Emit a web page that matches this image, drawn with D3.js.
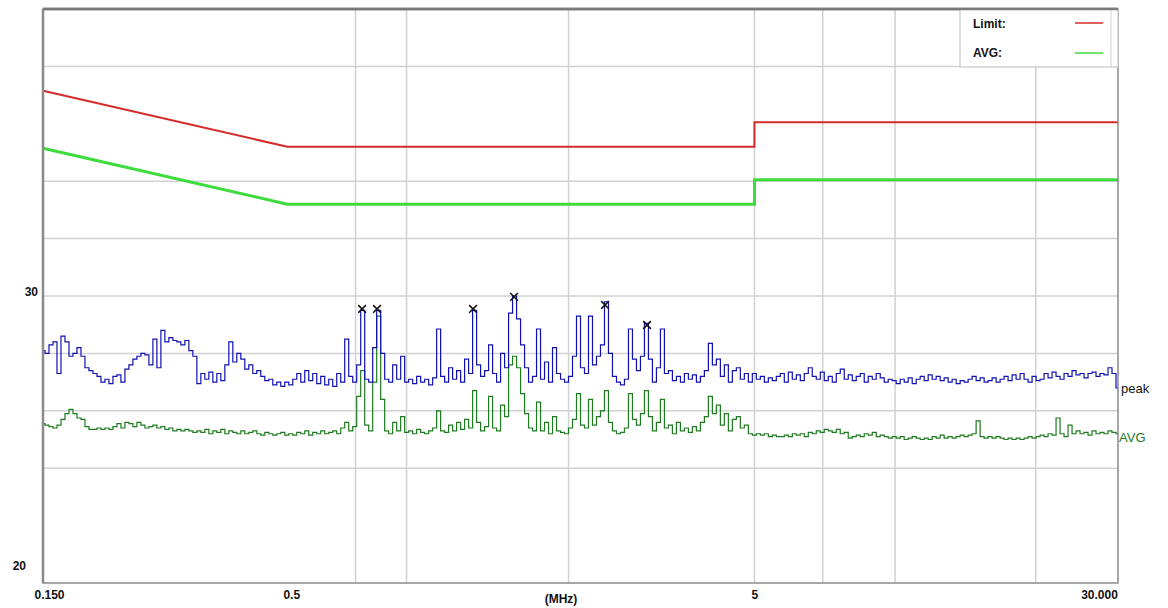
<!DOCTYPE html>
<html><head><meta charset="utf-8">
<script src="https://cdn.jsdelivr.net/npm/d3@7"></script>
<style>
html,body{margin:0;padding:0;background:#fff;}
svg{display:block;}
</style></head>
<body>
<svg id="chart" width="1168" height="608"></svg>
<script>
// ---------- data ----------
const fStart = 0.15, fStop = 30, sweepCount = 270;
const peakValues = [
28.1,28.0,28.3,28.4,27.3,28.6,28.4,27.9,28.0,28.2,
27.9,27.5,27.4,27.3,27.2,27.0,27.1,26.95,27.2,27.25,
27.0,27.45,27.6,27.8,27.9,28.0,27.95,27.6,28.5,27.5,
28.8,28.4,28.55,28.45,28.4,28.3,28.45,28.1,27.9,26.95,
27.3,27.1,27.35,27.0,27.3,27.05,27.6,28.4,27.7,28.0,
27.8,27.45,27.6,27.3,27.4,27.2,27.05,27.1,26.9,27.0,
26.85,27.0,26.9,27.1,27.3,27.0,27.4,27.05,27.3,26.95,
27.2,26.9,27.1,26.85,27.3,27.0,28.5,27.2,27.0,27.6,
29.5,27.1,27.0,28.2,29.5,28.0,27.1,27.0,27.6,27.1,
27.9,27.0,27.1,26.95,27.2,27.0,27.1,26.9,27.15,28.85,
27.2,27.0,27.5,27.1,27.4,27.0,27.8,27.3,29.5,27.6,
27.2,27.4,28.3,27.3,27.0,28.0,27.5,29.4,30.0,29.2,
28.3,27.5,27.0,27.2,28.85,27.1,27.7,27.0,28.2,27.3,
27.1,27.0,27.2,27.9,29.3,27.5,27.3,29.3,27.6,27.9,
28.3,29.8,28.0,27.2,27.0,26.9,27.1,28.85,27.8,27.4,
27.9,29.05,27.8,27.0,27.5,28.85,27.3,27.4,27.05,27.2,
27.0,27.3,27.1,27.25,27.0,27.2,27.4,28.35,27.6,27.8,
27.2,27.6,27.0,27.4,27.5,27.1,27.3,27.0,27.3,27.1,
27.2,27.0,27.15,27.05,27.2,27.3,27.0,27.35,27.1,27.25,
27.05,27.3,27.5,27.2,27.1,27.35,27.05,27.2,27.0,27.3,
27.45,27.1,27.25,27.05,27.2,27.3,27.0,27.2,27.1,27.3,
27.15,27.0,27.1,27.05,26.95,27.1,27.0,27.15,26.95,27.1,
27.2,27.05,27.25,27.1,27.2,27.05,27.15,27.0,27.1,26.95,
27.05,27.0,27.1,27.2,27.05,27.15,27.0,27.05,27.15,27.0,
27.1,27.2,27.05,27.25,27.1,27.3,27.1,27.0,27.2,27.05,
27.1,27.3,27.15,27.35,27.2,27.1,27.3,27.2,27.4,27.25,
27.3,27.15,27.3,27.35,27.2,27.3,27.25,27.5,27.3,26.8
];
const avgValues = [
25.55,25.5,25.45,25.4,25.5,25.7,25.9,26.05,25.9,25.75,
25.7,25.45,25.35,25.35,25.4,25.35,25.4,25.35,25.45,25.55,
25.4,25.6,25.55,25.45,25.6,25.5,25.4,25.45,25.5,25.4,
25.45,25.35,25.4,25.3,25.35,25.3,25.35,25.3,25.25,25.3,
25.25,25.35,25.2,25.3,25.25,25.35,25.2,25.3,25.25,25.2,
25.3,25.2,25.25,25.3,25.2,25.15,25.25,25.2,25.15,25.2,
25.25,25.15,25.2,25.15,25.25,25.2,25.3,25.15,25.25,25.2,
25.3,25.2,25.25,25.3,25.2,25.4,25.6,25.3,25.45,26.5,
27.4,25.5,25.3,27.0,29.3,26.4,25.3,25.2,25.6,25.3,
25.8,25.25,25.3,25.2,25.35,25.25,25.2,25.3,25.4,26.0,
25.3,25.25,25.5,25.3,25.6,25.35,25.7,25.4,26.7,25.6,
25.3,25.45,26.5,25.4,25.3,26.2,25.8,27.6,27.9,27.5,
26.6,25.9,25.4,25.3,26.3,25.3,25.6,25.2,25.8,25.3,
25.25,25.2,25.4,25.7,26.6,25.5,25.4,26.4,25.5,25.8,
26.0,26.7,25.6,25.3,25.2,25.25,25.4,26.6,25.7,25.5,
25.9,26.7,25.8,25.3,25.6,26.4,25.4,25.5,25.2,25.6,
25.3,25.4,25.25,25.45,25.3,25.6,25.8,26.5,25.9,26.2,
25.5,25.9,25.3,25.7,25.8,25.4,25.5,25.2,25.15,25.2,
25.15,25.2,25.1,25.15,25.1,25.1,25.15,25.1,25.2,25.15,
25.2,25.1,25.25,25.2,25.3,25.25,25.35,25.3,25.25,25.35,
25.2,25.25,25.05,25.1,25.15,25.1,25.2,25.15,25.25,25.1,
25.15,25.1,25.05,25.1,25.05,25.1,25.0,25.05,25.1,25.05,
25.0,25.05,25.0,25.1,25.05,25.15,25.05,25.1,25.05,25.1,
25.15,25.1,25.15,25.2,25.65,25.1,25.05,25.1,25.05,25.1,
25.05,25.0,25.05,25.0,25.05,25.0,25.05,25.1,25.05,25.1,
25.15,25.1,25.2,25.15,25.75,25.2,25.1,25.5,25.2,25.3,
25.2,25.25,25.15,25.3,25.2,25.25,25.2,25.3,25.25,25.2
];
const limitFreqs  = [0.15, 0.5, 5, 5, 30];
const limitQP     = [37.15, 35.2, 35.2, 36.05, 36.05];
const limitAVG    = [35.15, 33.2, 33.2, 34.05, 34.05];
const markerFreqs  = [0.723, 0.778, 1.249, 1.529, 2.394, 2.945];
const markerValues = [29.55, 29.55, 29.55, 29.97, 29.69, 28.99];
const xTickValues = [0.15, 0.5, 5, 30];
const xTickLabels = ["0.150", "0.5", "5", "30.000"];
const xGridValues = [0.7, 0.9, 2, 5, 7, 10, 20];
const yTickValues = [30, 20];
const yTickLabels = ["30", "20"];
const yGridValues = [24, 26, 28, 30, 32, 34, 38];
const legendLabels = ["Limit:", "AVG:"];
const traceLabels = ["peak", "AVG"];
const unitLabel = "(MHz)";

// ---------- layout ----------
const L = 43, R = 1118, T = 9, B = 583;
const svg = d3.select("#chart");
const x = d3.scaleLog().domain([fStart, fStop]).range([L, R]);
const y = d3.scaleLinear().domain([20, 40]).range([B, T]);

const sweep = d3.range(sweepCount).map(i => fStart * Math.pow(fStop / fStart, i / (sweepCount - 1)));

// gridlines
svg.append("g").selectAll("line").data(yGridValues).join("line")
  .attr("x1", L).attr("x2", R).attr("y1", d => y(d)).attr("y2", d => y(d))
  .attr("stroke", "#d2d2d2").attr("stroke-width", 1.5);
svg.append("g").selectAll("line").data(xGridValues).join("line")
  .attr("x1", d => x(d)).attr("x2", d => x(d)).attr("y1", T).attr("y2", B)
  .attr("stroke", "#d2d2d2").attr("stroke-width", 1.5);

// limit lines
const lim = d3.line().x(d => x(d[0])).y(d => y(d[1]));
svg.append("path").datum(limitFreqs.map((f, i) => [f, limitAVG[i]]))
  .attr("d", lim).attr("fill", "none").attr("stroke", "#3cdc3c").attr("stroke-width", 3);
svg.append("path").datum(limitFreqs.map((f, i) => [f, limitQP[i]]))
  .attr("d", lim).attr("fill", "none").attr("stroke", "#d42a2a").attr("stroke-width", 2);

// traces
const trace = d3.line().x(d => x(d[0])).y(d => y(d[1])).curve(d3.curveStep);
svg.append("path").datum(sweep.map((f, i) => [f, avgValues[i]]))
  .attr("d", trace).attr("fill", "none").attr("stroke", "#1e7a1e").attr("stroke-width", 1.2);
svg.append("path").datum(sweep.map((f, i) => [f, peakValues[i]]))
  .attr("d", trace).attr("fill", "none").attr("stroke", "#1010b0").attr("stroke-width", 1.2);

// markers
svg.append("g").selectAll("path").data(markerFreqs).join("path")
  .attr("transform", (d, i) => `translate(${x(d)},${y(markerValues[i])})`)
  .attr("d", d3.symbol().type(d3.symbolX).size(40))
  .attr("fill", "none").attr("stroke", "#111").attr("stroke-width", 1.6);

// frame
svg.append("rect").attr("x", L).attr("y", T).attr("width", R - L).attr("height", B - T)
  .attr("fill", "none").attr("stroke", "#8a8a8a").attr("stroke-width", 1.5);
svg.append("line").attr("x1", L).attr("x2", R).attr("y1", T).attr("y2", T)
  .attr("stroke", "#7a7a7a").attr("stroke-width", 2.5);
svg.append("line").attr("x1", L).attr("x2", L).attr("y1", T).attr("y2", B)
  .attr("stroke", "#8a8a8a").attr("stroke-width", 2.5);

// legend
const lg = svg.append("g");
lg.append("rect").attr("x", 960).attr("y", T).attr("width", R - 960).attr("height", 58)
  .attr("fill", "#fff").attr("stroke", "#c8c8c8").attr("stroke-width", 1.2);
lg.append("line").attr("x1", 1111).attr("x2", 1111).attr("y1", T).attr("y2", T + 58)
  .attr("stroke", "#d0d0d0").attr("stroke-width", 1);
lg.append("line").attr("x1", L).attr("x2", R).attr("y1", T).attr("y2", T)
  .attr("stroke", "#7a7a7a").attr("stroke-width", 2.5);
const legColors = ["#d42a2a", "#3cdc3c"];
legendLabels.forEach((t, i) => {
  lg.append("text").attr("x", 973).attr("y", 28 + i * 29).text(t)
    .attr("font-family", "Liberation Sans, Arial, sans-serif").attr("font-size", 12)
    .attr("font-weight", "bold").attr("fill", "#111");
  lg.append("line").attr("x1", 1075).attr("x2", 1103).attr("y1", 23 + i * 30).attr("y2", 23 + i * 30)
    .attr("stroke", legColors[i]).attr("stroke-width", 1.5);
});

// trace labels
svg.append("text").attr("x", 1121).attr("y", 393).text(traceLabels[0])
  .attr("font-family", "Liberation Sans, Arial, sans-serif").attr("font-size", 13).attr("fill", "#111");
svg.append("text").attr("x", 1119).attr("y", 442).text(traceLabels[1])
  .attr("font-family", "Liberation Sans, Arial, sans-serif").attr("font-size", 13).attr("fill", "#1e7a1e");

// axes
const xAxis = d3.axisBottom(x).tickValues(xTickValues).tickSize(0)
  .tickFormat((d, i) => xTickLabels[i]);
const gx = svg.append("g").attr("transform", `translate(0,${B})`).call(xAxis);
gx.select(".domain").remove();
gx.selectAll("text").attr("font-family", "Liberation Sans, Arial, sans-serif")
  .attr("font-size", 12).attr("font-weight", "bold").attr("fill", "#111").attr("dy", "1.05em")
  .attr("dx", (d, i) => [6, 4, 0, -19][i]);

svg.append("text").attr("x", 561).attr("y", 603).attr("text-anchor", "middle").text(unitLabel)
  .attr("font-family", "Liberation Sans, Arial, sans-serif").attr("font-size", 12)
  .attr("font-weight", "bold").attr("fill", "#111");

const yAxis = d3.axisLeft(y).tickValues(yTickValues).tickSize(0)
  .tickFormat((d, i) => yTickLabels[i]);
const gy = svg.append("g").attr("transform", `translate(${L},0)`).call(yAxis);
gy.select(".domain").remove();
gy.selectAll("text").attr("font-family", "Liberation Sans, Arial, sans-serif")
  .attr("font-size", 12).attr("font-weight", "bold").attr("fill", "#111")
  .attr("dx", (d, i) => [-2, -14][i]).attr("dy", (d, i) => ["-0.05em", "-1.1em"][i]);
</script>
</body></html>
